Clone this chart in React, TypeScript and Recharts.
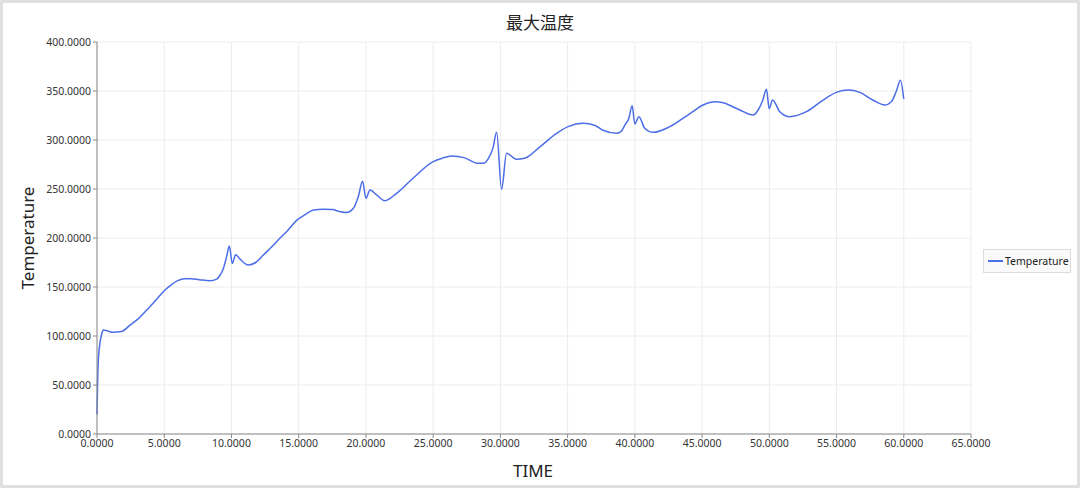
import { LineChart, Line, XAxis, YAxis, CartesianGrid } from 'recharts';

// time (s) and max temperature
const times = [
  0, 0.08, 0.22, 0.35, 0.47, 0.7, 1.2, 1.8, 2.45, 3.1, 3.7, 4.4, 5.06, 5.5, 6.0, 6.5, 7.0, 7.6, 8.4,
  8.9, 9.15, 9.4, 9.64, 9.84, 10.06, 10.31, 10.6, 11.25, 11.8, 12.37, 13.0, 13.6, 14.2, 14.85, 15.5,
  16.1, 16.8, 17.5, 18.07, 18.56, 19.06, 19.43, 19.75, 20.0, 20.3, 20.8, 21.4, 22.28, 23.5, 25.0,
  25.7, 26.37, 27.3, 28.35, 28.8, 29.1, 29.45, 29.72, 30.09, 30.46, 31.2, 31.8, 32.94, 34.18, 35.04,
  36.16, 37.0, 37.64, 38.64, 39.0, 39.26, 39.55, 39.8, 40.0, 40.3, 40.74, 41.36, 42.6, 44.1, 45.08,
  45.95, 46.57, 47.8, 48.8, 49.17, 49.5, 49.79, 49.99, 50.24, 50.78, 51.52, 52.76, 54.0, 54.99, 55.86,
  56.73, 57.7, 58.6, 59.08, 59.45, 59.75, 60.0,
];
const temps = [
  20, 70, 93, 102, 106, 105.5, 103.7, 104.5, 111, 118, 126.5, 137, 147, 152, 156.5, 158.5, 158.5,
  157.5, 156.4, 158, 162, 169, 181, 191.8, 174, 183, 179, 172.4, 175, 182.6, 191, 199.7, 208, 218,
  224, 228.6, 229.3, 229, 226.9, 226, 230, 242, 258, 240.5, 249, 243.9, 238, 245.6, 261, 277.9,
  281.5, 283.7, 282, 276.2, 276.5, 281, 292, 307.8, 249.7, 286.4, 280.3, 281.3, 293, 306.8, 313.6,
  317, 315, 310, 306.8, 309, 315.3, 322, 335, 316.3, 323.8, 312, 307.8, 313.6, 327, 335.7,
  339, 338, 330.6, 325.5, 330.6, 340, 351.7, 332, 340.8, 328.9, 323.8, 328.9, 340.8, 348.6, 351,
  348.6, 340.8, 335.7, 339, 350, 361, 341.8,
];

const xTicks = [0, 5, 10, 15, 20, 25, 30, 35, 40, 45, 50, 55, 60, 65];
const yTicks = [0, 50, 100, 150, 200, 250, 300, 350, 400];

const data = times.map((t, i) => ({ time: t, Temperature: temps[i] }));

const font = '"Noto Sans", "Open Sans", sans-serif';
const tick = { fontSize: 10.5, fill: '#333', fontFamily: font };
const lineColor = '#4c6ee6';

export default function App() {
  return (
    <div style={{
      position: 'absolute', left: 0, top: 0, width: 1080, height: 488, background: '#fff',
      boxSizing: 'border-box', border: '3px solid #e0e0e0', overflow: 'hidden',
    }}>
      <div style={{ position: 'absolute', left: -3, top: -3, width: 1080, height: 488 }}>
        <LineChart width={1080} height={488} data={data}
          margin={{ top: 42, right: 109, bottom: 24, left: 37 }}>
          <CartesianGrid stroke="#ececec" strokeWidth={1} />
          <XAxis dataKey="time" type="number" domain={[0, 65]} ticks={xTicks} height={30}
            tickFormatter={(v) => Number(v).toFixed(4)} tick={tick}
            stroke="#8a8a8a" tickSize={4} tickMargin={2} />
          <YAxis type="number" domain={[0, 400]} ticks={yTicks} width={60}
            tickFormatter={(v) => Number(v).toFixed(4)} tick={tick}
            stroke="#8a8a8a" tickSize={4} tickMargin={2} />
          <Line type="monotone" dataKey="Temperature" stroke={lineColor} strokeWidth={1.5}
            dot={false} isAnimationActive={false} />
        </LineChart>
        <div style={{
          position: 'absolute', left: 983, top: 249, width: 88, height: 24,
          border: '1px solid #dcdcdc', background: '#fafafa', boxSizing: 'border-box',
          display: 'flex', alignItems: 'center', padding: '0 4px',
          fontFamily: font, fontSize: 10.5, color: '#222',
        }}>
          <div style={{ width: 15, height: 2, background: lineColor, marginRight: 2, flex: 'none' }} />
          Temperature
        </div>
        <div style={{
          position: 'absolute', left: 0, width: 1080, top: 9, textAlign: 'center',
          fontFamily: '"Noto Sans CJK SC", sans-serif', fontSize: 17, color: '#222',
        }}>最大温度</div>
        <div style={{
          position: 'absolute', left: 533, top: 459, transform: 'translateX(-50%)',
          fontFamily: font, fontSize: 17, color: '#222',
        }}>TIME</div>
        <div style={{
          position: 'absolute', left: 27, top: 238, transform: 'translate(-50%, -50%) rotate(-90deg)',
          fontFamily: font, fontSize: 17, color: '#222', whiteSpace: 'nowrap',
        }}>Temperature</div>
      </div>
    </div>
  );
}
